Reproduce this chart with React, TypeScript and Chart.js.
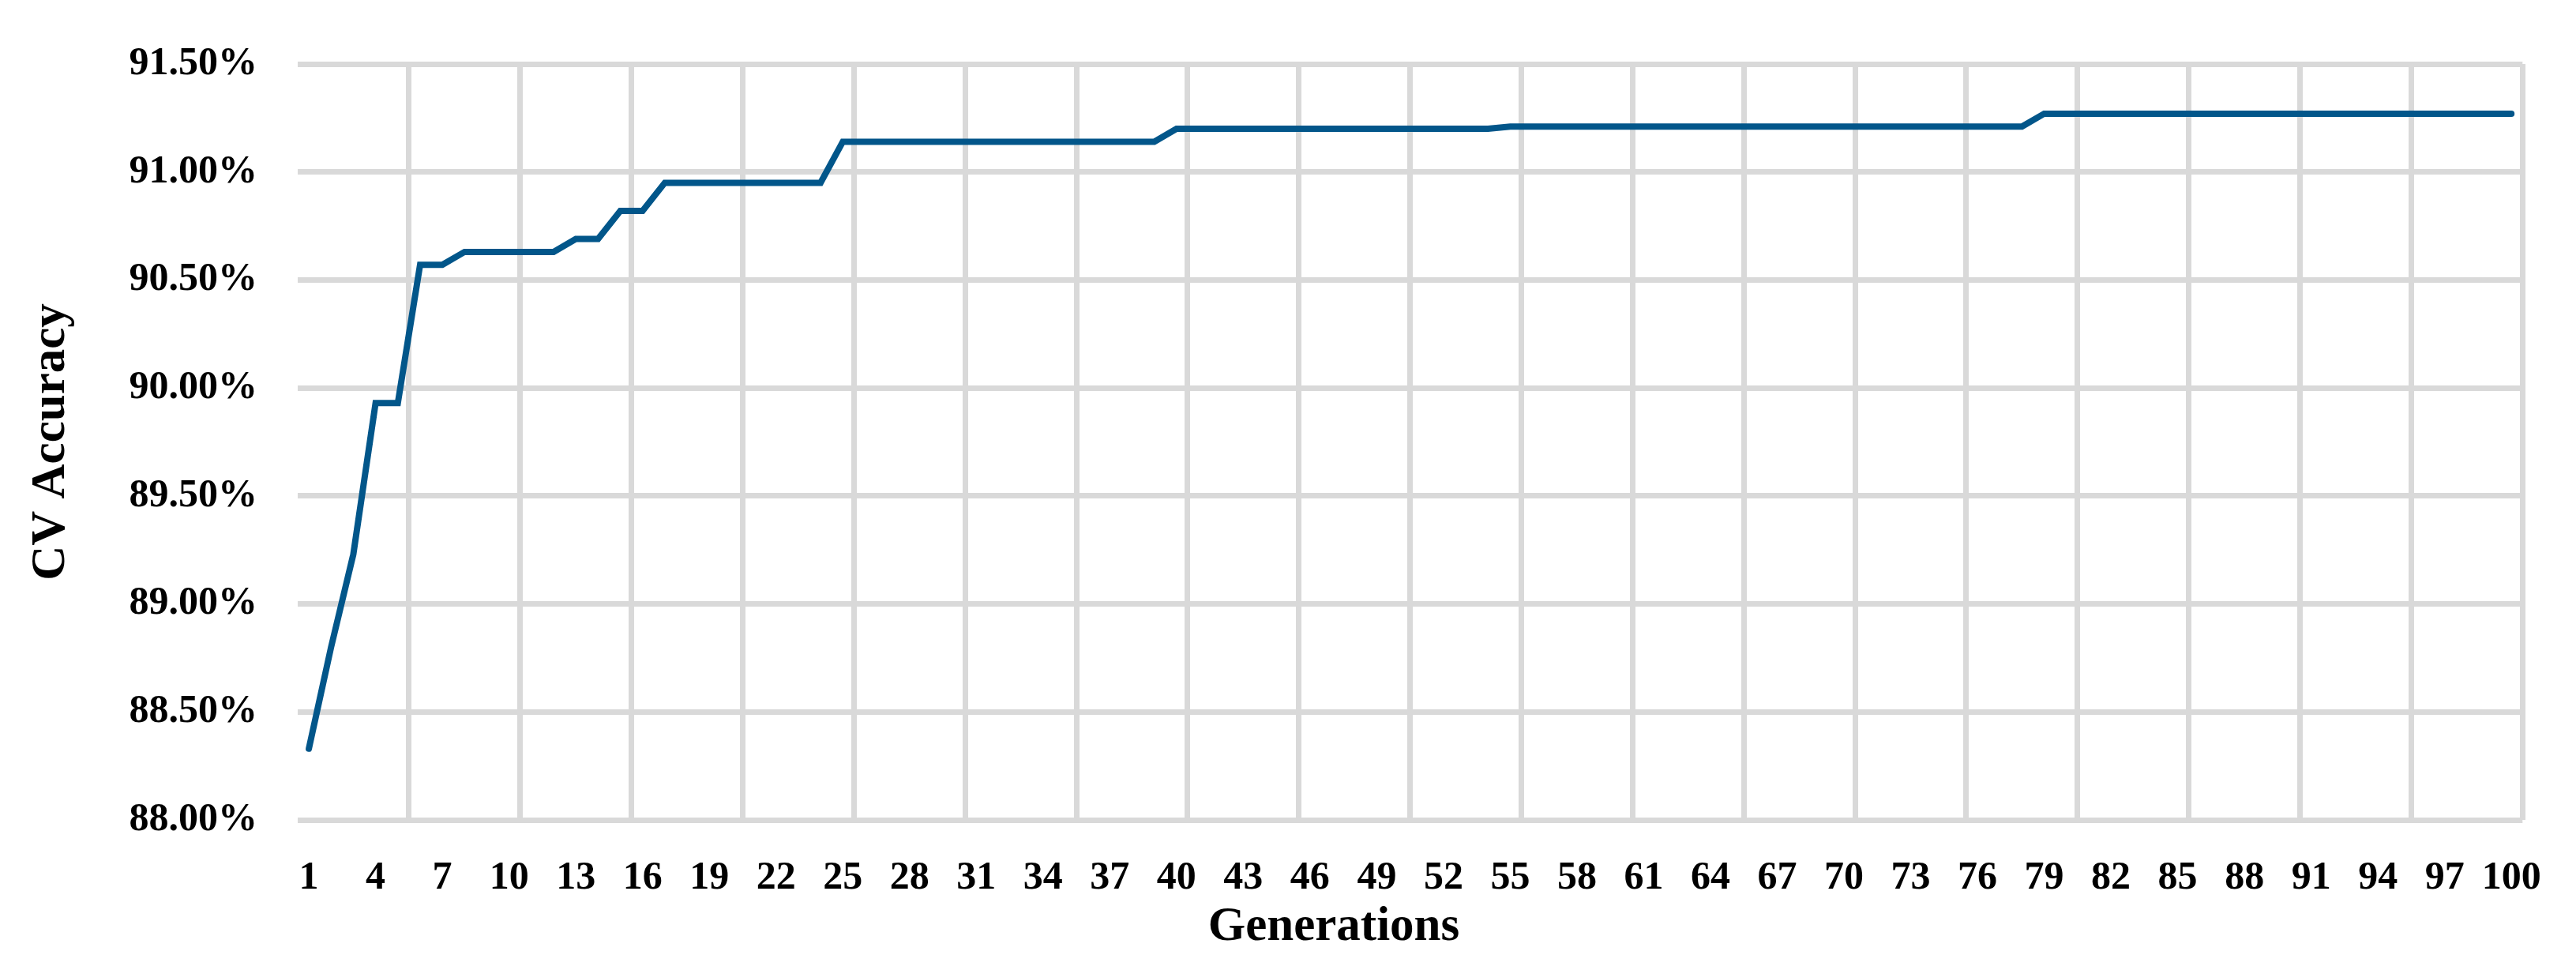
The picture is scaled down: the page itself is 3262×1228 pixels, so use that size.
import React, { useEffect, useRef } from "react";
import { Chart, registerables } from "chart.js";

Chart.register(...registerables);

const generations: number[] = [
  1, 2, 3, 4, 5, 6, 7, 8, 9, 10,
  11, 12, 13, 14, 15, 16, 17, 18, 19, 20,
  21, 22, 23, 24, 25, 26, 27, 28, 29, 30,
  31, 32, 33, 34, 35, 36, 37, 38, 39, 40,
  41, 42, 43, 44, 45, 46, 47, 48, 49, 50,
  51, 52, 53, 54, 55, 56, 57, 58, 59, 60,
  61, 62, 63, 64, 65, 66, 67, 68, 69, 70,
  71, 72, 73, 74, 75, 76, 77, 78, 79, 80,
  81, 82, 83, 84, 85, 86, 87, 88, 89, 90,
  91, 92, 93, 94, 95, 96, 97, 98, 99, 100,
];

const cvAccuracy: number[] = [
  88.33, 88.80, 89.23, 89.93, 89.93, 90.57, 90.57, 90.63, 90.63, 90.63,
  90.63, 90.63, 90.69, 90.69, 90.82, 90.82, 90.95, 90.95, 90.95, 90.95,
  90.95, 90.95, 90.95, 90.95, 91.14, 91.14, 91.14, 91.14, 91.14, 91.14,
  91.14, 91.14, 91.14, 91.14, 91.14, 91.14, 91.14, 91.14, 91.14, 91.20,
  91.20, 91.20, 91.20, 91.20, 91.20, 91.20, 91.20, 91.20, 91.20, 91.20,
  91.20, 91.20, 91.20, 91.20, 91.21, 91.21, 91.21, 91.21, 91.21, 91.21,
  91.21, 91.21, 91.21, 91.21, 91.21, 91.21, 91.21, 91.21, 91.21, 91.21,
  91.21, 91.21, 91.21, 91.21, 91.21, 91.21, 91.21, 91.21, 91.27, 91.27,
  91.27, 91.27, 91.27, 91.27, 91.27, 91.27, 91.27, 91.27, 91.27, 91.27,
  91.27, 91.27, 91.27, 91.27, 91.27, 91.27, 91.27, 91.27, 91.27, 91.27,
];

const xTickLabels: string[] = [
  "1", "4", "7", "10", "13", "16", "19", "22", "25", "28", "31", "34",
  "37", "40", "43", "46", "49", "52", "55", "58", "61", "64", "67", "70",
  "73", "76", "79", "82", "85", "88", "91", "94", "97", "100",
];

const yTickLabels: string[] = [
  "88.00%", "88.50%", "89.00%", "89.50%", "90.00%", "90.50%", "91.00%", "91.50%",
];

const xTitle = "Generations";
const yTitle = "CV Accuracy";

const GRID = "#D9D9D9";
const LINE = "#02568A";
const FONT = "'Liberation Serif', 'Times New Roman', serif";

// The x-axis title sits a little left of the plot's centre in the reference.
const xTitlePlugin = {
  id: "xTitleOffset",
  afterDraw(chart: any) {
    const { ctx, chartArea } = chart;
    const xs = chart.scales.x;
    ctx.save();
    ctx.font = `bold 61px ${FONT}`;
    ctx.fillStyle = "#000";
    ctx.textAlign = "center";
    ctx.textBaseline = "middle";
    const cx = chartArea.left + (chartArea.right - chartArea.left) * 0.4657;
    ctx.fillText(xTitle, cx, xs.bottom - 54);
    ctx.restore();
  },
};

export default function App() {
  const ref = useRef<HTMLCanvasElement | null>(null);

  useEffect(() => {
    if (!ref.current) return;
    const yMin = parseFloat(yTickLabels[0]);
    const yMax = parseFloat(yTickLabels[yTickLabels.length - 1]);
    const yStep = parseFloat(yTickLabels[1]) - yMin;
    const chart = new Chart(ref.current, {
      type: "line",
      data: {
        labels: generations.map(String),
        datasets: [
          {
            data: cvAccuracy,
            borderColor: LINE,
            backgroundColor: LINE,
            borderWidth: 8,
            pointRadius: 0,
            pointHoverRadius: 0,
            tension: 0,
            borderCapStyle: "round",
            borderJoinStyle: "miter",
            fill: false,
          },
        ],
      },
      plugins: [xTitlePlugin],
      options: {
        responsive: false,
        maintainAspectRatio: false,
        devicePixelRatio: 1,
        animation: false,
        layout: { padding: { top: 75, right: 59, bottom: 0, left: 0 } },
        plugins: {
          legend: { display: false },
          tooltip: { enabled: false },
          title: { display: false },
        },
        scales: {
          x: {
            type: "category",
            offset: true,
            border: { display: false },
            grid: {
              offset: true,
              drawTicks: false,
              lineWidth: 7,
              color: (ctx: any) => {
                if (ctx.type !== "tick") return GRID;
                return ctx.index > 0 && ctx.index % 5 === 0 ? GRID : "rgba(0,0,0,0)";
              },
            },
            ticks: {
              autoSkip: false,
              maxRotation: 0,
              minRotation: 0,
              padding: 44,
              color: "#000",
              font: { family: FONT, size: 50, weight: "bold" },
              callback: (_v: any, i: number) => {
                const lab = String(generations[i]);
                return xTickLabels.includes(lab) ? lab : "";
              },
            },
            title: { display: false, text: xTitle },
            afterFit: (s: any) => {
              s.height = 190;
            },
          },
          y: {
            min: yMin,
            max: yMax,
            border: { display: false },
            grid: {
              drawTicks: false,
              lineWidth: 7,
              color: GRID,
            },
            ticks: {
              stepSize: yStep,
              padding: 51,
              color: "#000",
              font: { family: FONT, size: 50, weight: "bold" },
              callback: (v: any) => {
                const lab = Number(v).toFixed(2) + "%";
                return yTickLabels.includes(lab) ? lab : "";
              },
            },
            title: {
              display: true,
              text: yTitle,
              color: "#000",
              font: { family: FONT, size: 61, weight: "bold" },
              padding: { top: 29, bottom: 0 },
            },
            afterFit: (s: any) => {
              s.width = 377;
            },
          },
        },
      },
    });
    return () => chart.destroy();
  }, []);

  return (
    <div style={{ position: "fixed", left: 0, top: 0, width: 3262, height: 1228, background: "#fff" }}>
      <canvas ref={ref} width={3262} height={1228} style={{ display: "block", width: 3262, height: 1228 }} />
    </div>
  );
}
